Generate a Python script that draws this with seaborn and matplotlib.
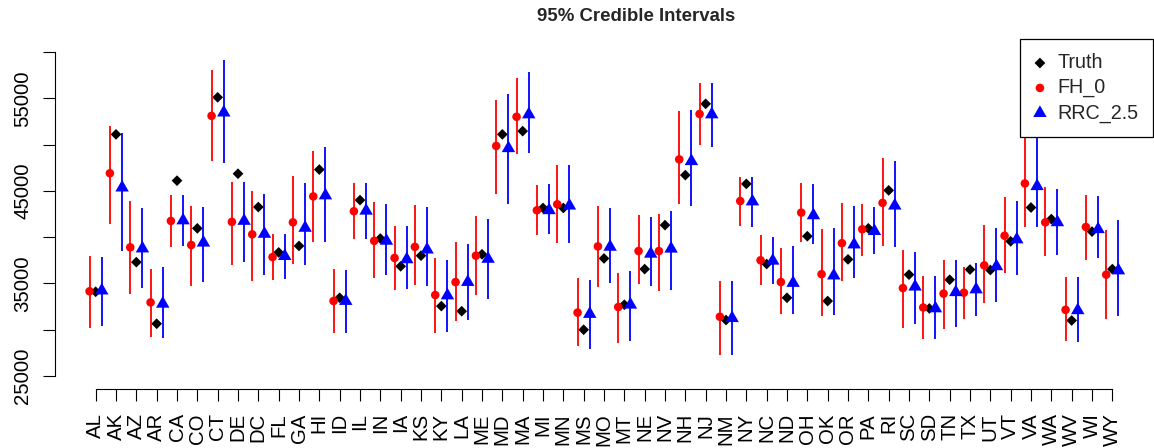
import numpy as np
import pandas as pd
import matplotlib
matplotlib.use("Agg")
import matplotlib.pyplot as plt
from matplotlib.path import Path
import seaborn as sns

states = ["AL", "AK", "AZ", "AR", "CA", "CO", "CT", "DE", "DC", "FL", "GA", "HI",
          "ID", "IL", "IN", "IA", "KS", "KY", "LA", "ME", "MD", "MA", "MI", "MN",
          "MS", "MO", "MT", "NE", "NV", "NH", "NJ", "NM", "NY", "NC", "ND", "OH",
          "OK", "OR", "PA", "RI", "SC", "SD", "TN", "TX", "UT", "VT", "VA", "WA",
          "WV", "WI", "WY"]

truth = [34100, 51100, 37300, 30650, 46100, 40950, 55100, 46850, 43250, 38350,
         39050, 47300, 33450, 44000, 39850, 36850, 38000, 32550, 32000, 38150,
         51100, 51450, 43150, 43150, 30000, 37700, 32700, 36550, 41300, 46700,
         54400, 31050, 45750, 37100, 33450, 40100, 33100, 37600, 40950, 45050,
         35950, 32300, 35400, 36500, 36450, 39550, 43200, 41950, 31000, 40600,
         36550]

fh_mean = [34150, 46900, 38900, 32950, 41750, 39150, 53100, 41650, 40300, 37850,
           41600, 44400, 33100, 42800, 39600, 37750, 38950, 33750, 35150, 38000,
           49850, 53000, 42900, 43550, 31850, 39000, 32450, 38500, 38500, 48400,
           53300, 31400, 43900, 37500, 35150, 42650, 36000, 39350, 40850, 43700,
           34500, 32400, 33900, 34000, 36950, 40150, 45800, 41600, 32150, 41100,
           35950]
fh_lo = [30200, 41400, 33850, 29250, 38950, 34700, 48250, 36950, 35300, 35350,
         37050, 39500, 29600, 39800, 35600, 34250, 34800, 29600, 30900, 33750,
         44700, 48950, 40200, 39400, 28200, 34650, 28550, 34950, 34150, 43550,
         50000, 27300, 41250, 34800, 31650, 39500, 31500, 35300, 38000, 39050,
         30200, 28950, 30050, 31150, 32850, 36150, 41100, 37950, 28750, 37550,
         31200]
fh_hi = [37980, 52000, 43900, 36550, 44500, 43350, 58050, 46000, 45000, 40300,
         46650, 49350, 36550, 45800, 43800, 41250, 43450, 37700, 39500, 42250,
         54800, 57150, 45600, 47800, 35550, 43400, 36150, 42400, 42550, 53600,
         56600, 35250, 46500, 40200, 38850, 45900, 40850, 43650, 43550, 48600,
         38600, 35800, 37500, 36800, 41300, 44350, 51500, 45450, 35650, 44600,
         40750]

rrc_mean = [34230, 45350, 38770, 32800, 41800, 39400, 53450, 41750, 40350, 37950,
            41000, 44500, 33100, 42850, 39600, 37600, 38650, 33700, 35150, 37650,
            49600, 53250, 42900, 43400, 31700, 38950, 32700, 38200, 38750, 48200,
            53250, 31250, 43850, 37450, 35050, 42350, 35850, 39200, 40650, 43400,
            34650, 32300, 34050, 34350, 36850, 39750, 45500, 41600, 32100, 40850,
            36400]
rrc_lo = [30400, 38500, 34500, 29150, 39050, 35150, 48050, 37350, 35900, 35450,
          36950, 39500, 29700, 39850, 35900, 34350, 34750, 29750, 31100, 33350,
          43550, 49100, 40300, 39400, 27950, 35100, 28750, 34750, 34250, 43400,
          49750, 27300, 41100, 34900, 31650, 39250, 31550, 35550, 38150, 38950,
          30600, 28950, 30300, 31500, 33000, 35950, 41100, 38050, 28700, 37700,
          31450]
rrc_hi = [37870, 51300, 43200, 36750, 44600, 43300, 59150, 46000, 44700, 40300,
          45900, 49700, 36400, 45800, 43550, 41200, 43300, 37500, 39300, 42000,
          55450, 57800, 45700, 47800, 35350, 43100, 36300, 42200, 42800, 53700,
          56700, 35250, 46450, 40050, 39000, 45750, 41000, 43350, 43300, 48200,
          38350, 35800, 37500, 37250, 40950, 43900, 51800, 45250, 35650, 44450,
          41850]

series_labels = ["Truth", "FH_0", "RRC_2.5"]
y_ticks = [25000, 30000, 35000, 40000, 45000, 50000, 55000, 60000]
y_tick_labels = ["25000", "", "35000", "", "45000", "", "55000", ""]

sns.set_style("white")
plt.rcParams["font.family"] = ["Liberation Sans", "DejaVu Sans"]

pos = np.arange(len(states))
df = pd.DataFrame({
    "state": states, "pos": pos, "truth": truth,
    "fh": fh_mean, "fh_lo": fh_lo, "fh_hi": fh_hi,
    "rrc": rrc_mean, "rrc_lo": rrc_lo, "rrc_hi": rrc_hi,
})
dodge = 0.3

# filled triangle anchored at its centroid
tri = Path([(0.0, 1.0), (-0.866, -0.5), (0.866, -0.5), (0.0, 1.0)],
           [Path.MOVETO, Path.LINETO, Path.LINETO, Path.CLOSEPOLY])

fig = plt.figure(figsize=(11.54, 4.48), dpi=100)
ax = fig.add_axes([55 / 1154, 59 / 448, 1098 / 1154, 350 / 448])

sns.scatterplot(data=df, x="pos", y="truth", marker="D", s=30, color="black",
                edgecolor="none", linewidth=0, label=series_labels[0], ax=ax,
                zorder=3)

ax.vlines(df["pos"] - dodge, df["fh_lo"], df["fh_hi"], colors="red",
          linewidth=1.3, zorder=4)
sns.scatterplot(x=df["pos"] - dodge, y=df["fh"], marker="o", s=38, color="red",
                edgecolor="none", linewidth=0, label=series_labels[1], ax=ax,
                zorder=5)

ax.vlines(df["pos"] + dodge, df["rrc_lo"], df["rrc_hi"], colors="blue",
          linewidth=1.3, zorder=6)
sns.scatterplot(x=df["pos"] + dodge, y=df["rrc"], marker=tri, s=125, color="blue",
                edgecolor="none", linewidth=0, label=series_labels[2], ax=ax,
                zorder=7)

ax.set_xlim(-2, 52)
ax.set_ylim(23600, 61400)
ax.set_xticks(pos)
ax.set_xticklabels(states, rotation=90, fontsize=14.7)
ax.set_yticks(y_ticks)
ax.set_yticklabels(y_tick_labels, rotation=90, va="center", fontsize=14.7)
ax.set_xlabel("")
ax.set_ylabel("")

for side in ("top", "right"):
    ax.spines[side].set_visible(False)
for side in ("left", "bottom"):
    ax.spines[side].set_color("black")
    ax.spines[side].set_linewidth(0.8)
ax.spines["left"].set_bounds(y_ticks[0], y_ticks[-1])
ax.spines["bottom"].set_bounds(pos[0], pos[-1])
ax.tick_params(axis="both", direction="out", length=8.4, width=0.8,
               color="black", labelcolor="black", bottom=True, left=True)
ax.tick_params(axis="x", pad=9)
ax.tick_params(axis="y", pad=8)

ax.set_title("95% Credible Intervals", fontsize=13.4, fontweight="bold", pad=13,
             x=(636 - 55) / 1098)

leg = ax.legend(loc="upper right", bbox_to_anchor=(1.0, 1.0), borderaxespad=0,
                fontsize=14.2, frameon=True, fancybox=False, framealpha=1,
                edgecolor="black", borderpad=0.72, labelspacing=0.3,
                handlelength=0.6, handletextpad=0.6, scatterpoints=1)
leg.get_frame().set_linewidth(0.9)
leg.set_zorder(10)

fig.savefig("out.png", dpi=100)
